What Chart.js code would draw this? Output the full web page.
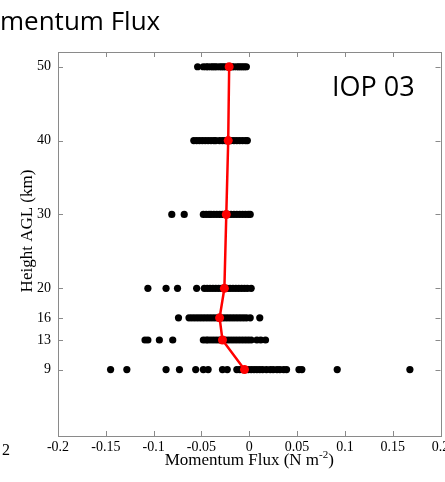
<!DOCTYPE html>
<html>
<head>
<meta charset="utf-8">
<script src="https://cdn.jsdelivr.net/npm/chart.js@4/dist/chart.umd.min.js"></script>
<style>
  body { margin: 0; background: #fff; }
  canvas { display: block; }
</style>
</head>
<body>
<canvas id="myChart" width="445" height="482"></canvas>
<script>
// heights (km) and the individual flux samples at each height (N m-2)
const heights = [9, 13, 16, 20, 30, 40, 50];
const flux9 = [-0.145, -0.128, -0.087, -0.073, -0.056, -0.048, -0.043, -0.028, -0.023, -0.013, -0.010, -0.007, -0.004, -0.001, 0.002, 0.005, 0.008, 0.011, 0.014, 0.018, 0.022, 0.025, 0.029, 0.032, 0.036, 0.039, 0.052, 0.055, 0.092, 0.168];
const flux13 = [-0.109, -0.106, -0.094, -0.080, -0.048, -0.045, -0.043, -0.040, -0.037, -0.034, -0.031, -0.028, -0.025, -0.022, -0.019, -0.016, -0.013, -0.010, -0.007, -0.004, -0.001, 0.002, 0.008, 0.012, 0.017];
const flux16 = [-0.074, -0.063, -0.060, -0.057, -0.054, -0.051, -0.048, -0.045, -0.042, -0.039, -0.036, -0.033, -0.030, -0.027, -0.024, -0.021, -0.018, -0.015, -0.012, -0.009, -0.006, -0.003, 0.001, 0.011];
const flux20 = [-0.106, -0.087, -0.075, -0.055, -0.047, -0.044, -0.041, -0.038, -0.035, -0.032, -0.029, -0.026, -0.023, -0.020, -0.017, -0.014, -0.011, -0.008, -0.005, -0.002, 0.002];
const flux30 = [-0.081, -0.068, -0.048, -0.045, -0.042, -0.040, -0.037, -0.034, -0.031, -0.028, -0.025, -0.022, -0.019, -0.016, -0.013, -0.010, -0.007, -0.004, -0.001, 0.001];
const flux40 = [-0.058, -0.055, -0.052, -0.049, -0.046, -0.043, -0.040, -0.037, -0.035, -0.031, -0.028, -0.025, -0.022, -0.019, -0.016, -0.013, -0.010, -0.007, -0.004, -0.002];
const flux50 = [-0.054, -0.048, -0.045, -0.043, -0.040, -0.038, -0.036, -0.034, -0.031, -0.029, -0.027, -0.025, -0.022, -0.020, -0.018, -0.016, -0.013, -0.011, -0.009, -0.007, -0.005, -0.003];
// mean profile (red line)
const meanFlux = [-0.005, -0.028, -0.031, -0.026, -0.024, -0.022, -0.021];
const yTicks = [9, 13, 16, 20, 30, 40, 50];

const samples = [flux9, flux13, flux16, flux20, flux30, flux40, flux50];
var points = [];
samples.forEach((arr, i) => {
	arr.forEach(v => points.push({ x: v, y: heights[i] }));
});

const serif = '"Liberation Serif", "Times New Roman", serif';

const frame = {
	id: 'frame',
	afterDraw(chart) {
		const ctx = chart.ctx;
		const a = chart.chartArea;
		const x = chart.scales.x, y = chart.scales.y;
		ctx.save();
		ctx.strokeStyle = '#8a8a8a';
		ctx.lineWidth = 1;
		ctx.strokeRect(Math.round(a.left) + 0.5, Math.round(a.top) + 0.5, Math.round(a.right - a.left), Math.round(a.bottom - a.top));
		ctx.beginPath();
		x.ticks.forEach(t => {
			let px = Math.round(x.getPixelForValue(t.value)) + 0.5;
			ctx.moveTo(px, a.top); ctx.lineTo(px, a.top + 5);
			ctx.moveTo(px, a.bottom); ctx.lineTo(px, a.bottom - 5);
		});
		y.ticks.forEach(t => {
			let py = Math.round(y.getPixelForValue(t.value)) + 0.5;
			ctx.moveTo(a.left, py); ctx.lineTo(a.left + 5, py);
			ctx.moveTo(a.right, py); ctx.lineTo(a.right - 5, py);
		});
		ctx.stroke();

		// axis titles
		ctx.fillStyle = '#000';
		ctx.textBaseline = 'alphabetic';
		let t1 = 'Momentum Flux (N m', t2 = '-2', t3 = ')';
		ctx.font = '17px ' + serif;
		let w1 = ctx.measureText(t1).width, w3 = ctx.measureText(t3).width;
		ctx.font = '11px ' + serif;
		let w2 = ctx.measureText(t2).width;
		let cx = (a.left + a.right) / 2;
		let sx = cx - (w1 + w2 + w3) / 2;
		ctx.textAlign = 'left';
		ctx.font = '17px ' + serif;
		ctx.fillText(t1, sx, 465);
		ctx.font = '11px ' + serif;
		ctx.fillText(t2, sx + w1, 458);
		ctx.font = '17px ' + serif;
		ctx.fillText(t3, sx + w1 + w2, 465);

		ctx.save();
		ctx.translate(32, 231);
		ctx.rotate(-Math.PI / 2);
		ctx.textAlign = 'center';
		ctx.fillText('Height AGL (km)', 0, 0);
		ctx.restore();

		// fragment of neighbouring panel label
		ctx.font = '16px ' + serif;
		ctx.textAlign = 'left';
		ctx.fillText('2', 2, 455);

		// panel label and cropped slide title
		ctx.font = '27px "Open Sans", sans-serif';
		ctx.fillText('IOP 03', 332, 96);
		ctx.font = '26px "Open Sans", sans-serif';
		let mo = ctx.measureText('Mo').width;
		ctx.fillText('Momentum Flux', -mo, 30);
		ctx.restore();
	}
};

const chart = new Chart(document.getElementById('myChart').getContext('2d'), {
	type: 'scatter',
	data: {
		datasets: [{
			type: 'line',
			data: heights.map((h, i) => ({ x: meanFlux[i], y: h })),
			borderColor: '#ff0000',
			backgroundColor: '#ff0000',
			borderWidth: 2.5,
			pointRadius: 4.5,
			pointBorderWidth: 0,
			fill: false,
			tension: 0,
			order: 0
		}, {
			data: points,
			backgroundColor: '#000',
			borderWidth: 0,
			pointRadius: 3.6,
			order: 1
		}]
	},
	options: {
		responsive: false,
		animation: false,
		layout: { padding: { left: 0, top: 52, right: 4, bottom: 0 } },
		plugins: { legend: { display: false }, tooltip: { enabled: false } },
		scales: {
			x: {
				type: 'linear',
				min: -0.2,
				max: 0.2,
				grid: { display: false, drawTicks: false },
				border: { display: false },
				ticks: {
					stepSize: 0.05, color: '#000', padding: 3, font: { family: serif, size: 14 },
					callback: v => String(Math.round(v * 100) / 100)
				},
				afterFit: s => { s.height = 46; s.paddingLeft = 0; s.paddingRight = 0; }
			},
			y: {
				type: 'linear',
				min: 0,
				max: 52,
				grid: { display: false, drawTicks: false },
				border: { display: false },
				ticks: { color: '#000', padding: 7, font: { family: serif, size: 14 } },
				afterBuildTicks: s => { s.ticks = yTicks.map(v => ({ value: v })); },
				afterFit: s => { s.width = 58; s.paddingTop = 0; s.paddingBottom = 0; }
			}
		}
	},
	plugins: [frame]
});
</script>
</body>
</html>
